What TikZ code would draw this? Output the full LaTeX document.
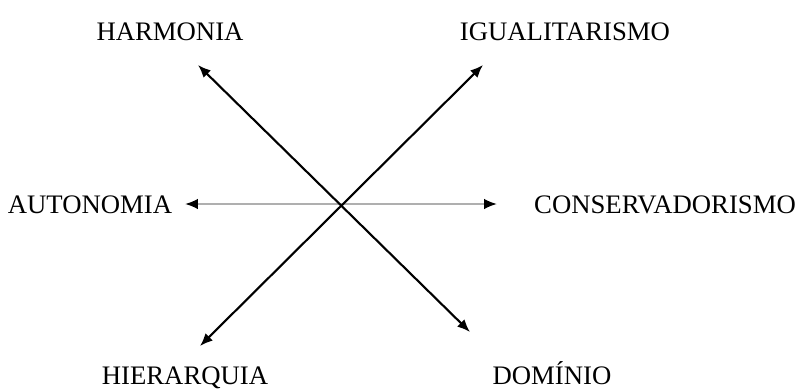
\documentclass[tikz,border=0pt]{standalone}
\usepackage{fontspec}
\setmainfont{Liberation Serif}
\usetikzlibrary{arrows.meta}

\tikzset{
  rotulo/.style={font=\fontsize{19}{21}\selectfont, inner sep=0pt, anchor=base},
  eixo/.style={line width=1.5pt, {Latex[length=3.2mm,width=2.6mm]}-{Latex[length=3.2mm,width=2.6mm]}},
  eixocinza/.style={line width=1.3pt, draw=cinza, {Latex[black,length=3.2mm,width=2.6mm]}-{Latex[black,length=3.2mm,width=2.6mm]}}
}

\begin{document}
\begin{tikzpicture}[x=0.025cm,y=-0.025cm]

\definecolor{cinza}{RGB}{175,175,175}

\useasboundingbox (0,0) rectangle (798,389);

\node[rotulo] (harmonia)   at (170,40)  {HARMONIA};
\node[rotulo] (igualit)    at (565,40)  {IGUALITARISMO};
\node[rotulo] (autonomia)  at (90,213)  {AUTONOMIA};
\node[rotulo] (conserv)    at (665,213) {CONSERVADORISMO};
\node[rotulo] (hierarquia) at (185,384) {HIERARQUIA};
\node[rotulo] (dominio)    at (552,384) {DOMÍNIO};

\coordinate (pharm) at (198,65);
\coordinate (pigua) at (483,65);
\coordinate (pauto) at (185,204);
\coordinate (pcons) at (497,204);
\coordinate (phier) at (200,346);
\coordinate (pdomi) at (470,332);

\draw[eixocinza] (pauto) -- (pcons);
\draw[eixo] (pharm) -- (pdomi);
\draw[eixo] (pigua) -- (phier);

\end{tikzpicture}
\end{document}
